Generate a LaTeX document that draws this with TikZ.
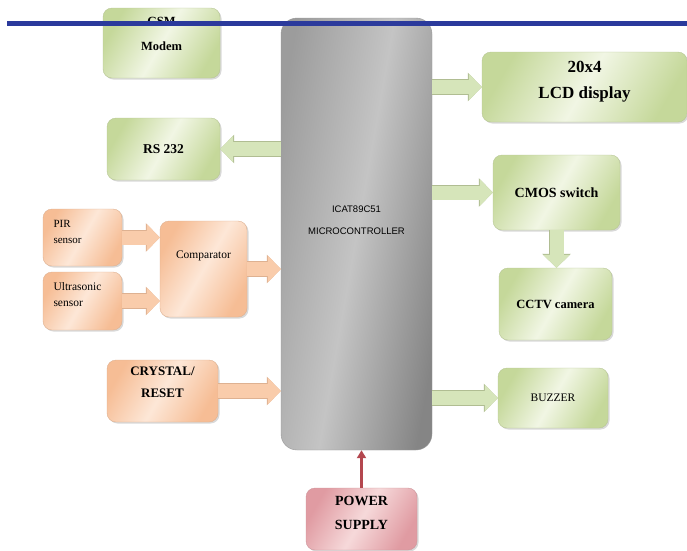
\documentclass[tikz,border=0pt]{standalone}
\usepackage{fontspec}
\setmainfont{Liberation Serif}
\newfontfamily\mcufont{Liberation Sans}
\usetikzlibrary{arrows.meta,shadows}
\definecolor{grndark}{HTML}{C5D89A}
\definecolor{grnlight}{HTML}{F1F6E4}
\definecolor{orgdark}{HTML}{F6BD95}
\definecolor{orglight}{HTML}{FDE7D7}
\definecolor{reddark}{HTML}{E09BA2}
\definecolor{redlight}{HTML}{F6D9DA}
\definecolor{mculeft}{HTML}{9C9C9C}
\definecolor{mcumid}{HTML}{C4C4C4}
\definecolor{mcuright}{HTML}{858585}
\definecolor{grnarrow}{HTML}{D6E5BA}
\definecolor{orgarrow}{HTML}{F9CCAB}
\definecolor{pwrarrow}{HTML}{B4474F}
\definecolor{rulecol}{HTML}{2B3A9C}
\begin{document}
\begin{tikzpicture}[
  x=1pt, y=-1pt,
  box/.style={
    rounded corners=9pt,
    align=center,
    inner sep=2pt,
    drop shadow={shadow xshift=1.5pt, shadow yshift=-1.5pt, opacity=0.3}
  },
  greenbox/.style={box, draw=grndark!80!gray, line width=0.4pt,
    top color=grndark, bottom color=grndark, middle color=grnlight, shading angle=60},
  orangebox/.style={box, draw=orgdark!80!gray, line width=0.4pt,
    top color=orgdark, bottom color=orgdark, middle color=orglight, shading angle=60},
  redbox/.style={box, draw=reddark!80!gray, line width=0.4pt,
    top color=reddark, bottom color=reddark, middle color=redlight, shading angle=60},
  mcubox/.style={rounded corners=16pt, align=center, inner sep=2pt,
    draw=black!40, line width=0.4pt,
    shading=axis, top color=mculeft, bottom color=mcuright, middle color=mcumid,
    shading angle=80},
  fatarrow/.style={line width=14pt, -{Triangle[length=13pt, width=26pt]}},
  greenarrow/.style={fatarrow, draw=grnarrow,
    preaction={draw=grndark!70!gray, line width=15.2pt, -{Triangle[length=14pt, width=28pt]}}},
  orangearrow/.style={fatarrow, draw=orgarrow,
    preaction={draw=orgdark!80!gray, line width=15.2pt, -{Triangle[length=14pt, width=28pt]}}},
  pwrline/.style={line width=3pt, draw=pwrarrow, -{Triangle[length=8pt, width=9pt]}}
]
\useasboundingbox (0,0) rectangle (687,550);

% left side
\node[greenbox, minimum width=117pt, minimum height=70pt, text depth=18pt,
  font=\bfseries\fontsize{12.5}{25}\selectfont] at (161.5,43) (gsm) {GSM\\Modem};
\node[greenbox, minimum width=113pt, minimum height=62pt,
  font=\bfseries\fontsize{13.5}{16}\selectfont] at (163.5,149) (rs) {RS 232};
\node[orangebox, minimum width=79pt, minimum height=57pt, text width=58pt, align=left,
  text depth=28pt, font=\fontsize{11}{16}\selectfont] at (82.5,237.5) (pir) {PIR\\sensor};
\node[orangebox, minimum width=79pt, minimum height=58pt, text width=58pt, align=left,
  text depth=28pt, font=\fontsize{11.5}{16}\selectfont] at (82.5,301) (ultra) {Ultrasonic\\sensor};
\node[orangebox, minimum width=87pt, minimum height=96pt, text depth=28pt,
  font=\fontsize{11.5}{14}\selectfont] at (203.5,269) (comp) {Comparator};
\node[orangebox, minimum width=111pt, minimum height=62pt, text depth=18pt,
  font=\bfseries\fontsize{13}{22}\selectfont] at (162.5,391) (crys) {CRYSTAL/\\RESET};

% controller
\node[mcubox, minimum width=151pt, minimum height=432pt, text depth=27pt,
  font=\mcufont\fontsize{9.5}{22}\selectfont] at (356.5,234) (mcu) {ICAT89C51\\MICROCONTROLLER};

% right side
\node[greenbox, minimum width=205pt, minimum height=70pt, text depth=14pt,
  font=\bfseries\fontsize{17}{26.5}\selectfont] at (584.5,87) (lcd) {20x4\\LCD display};
\node[greenbox, minimum width=127pt, minimum height=75pt,
  font=\bfseries\fontsize{14}{16}\selectfont] at (556.5,192.5) (cmos) {CMOS switch};
\node[greenbox, minimum width=113pt, minimum height=72pt,
  font=\bfseries\fontsize{12.5}{16}\selectfont] at (555.5,304) (cctv) {CCTV camera};
\node[greenbox, minimum width=110pt, minimum height=60pt,
  font=\fontsize{11.5}{14}\selectfont] at (553,398) (buzz) {BUZZER};

% bottom
\node[redbox, minimum width=111pt, minimum height=62pt, text depth=12pt,
  font=\bfseries\fontsize{14}{24}\selectfont] at (361.5,519) (pwr) {POWER\\SUPPLY};

\draw[greenarrow] (mcu.west |- rs.east) -- (rs.east);
\draw[orangearrow] (pir.east) -- (pir.east -| comp.west);
\draw[orangearrow] (ultra.east) -- (ultra.east -| comp.west);
\draw[orangearrow] (comp.east) -- (comp.east -| mcu.west);
\draw[orangearrow] (crys.east) -- (crys.east -| mcu.west);
\draw[greenarrow] (mcu.east |- lcd.west) -- (lcd.west);
\draw[greenarrow] (mcu.east |- cmos.west) -- (cmos.west);
\draw[greenarrow] (cmos.south) -- (cmos.south |- cctv.north);
\draw[greenarrow] (mcu.east |- buzz.west) -- (buzz.west);
\draw[pwrline] (pwr.north) -- (pwr.north |- mcu.south);

% rule across the top
\draw[line width=5pt, rulecol] (7,23) -- (687,23);
\end{tikzpicture}
\end{document}
